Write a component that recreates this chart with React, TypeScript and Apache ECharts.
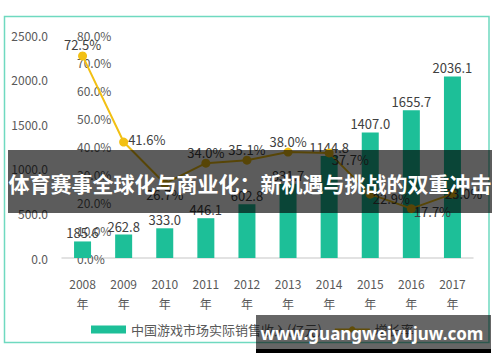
import React, { useEffect, useRef } from "react";
import * as echarts from "echarts";

const categories = ["2008\n年", "2009\n年", "2010\n年", "2011\n年", "2012\n年", "2013\n年", "2014\n年", "2015\n年", "2016\n年", "2017\n年"];
const revenue = [185.6, 262.8, 333.0, 446.1, 602.8, 831.7, 1144.8, 1407.0, 1655.7, 2036.1];
const growth = [72.5, 41.6, 26.7, 34.0, 35.1, 38.0, 37.7, 22.9, 17.7, 23.0];
const growthLabelPos = ["top", "right", "bottom", "top", "top", "top", "right", "right", "right", "right"];
const growthLabelOffset = [[0, 0], [0, -3], [0, 0], [0, 0], [0, 0], [0, 0], [-2, 7], [-2, 4], [-2, 3], [-12, 0]];
const barName = "中国游戏市场实际销售收入(亿元)";
const lineName = "增长率";
const bannerText = "体育赛事全球化与商业化：新机遇与挑战的双重冲击";
const watermarkText = "www.guangweiyujuw.com";

const FONT = "'Noto Sans CJK SC', 'Noto Sans', sans-serif";

export default function App() {
  const ref = useRef<HTMLDivElement>(null);
  useEffect(() => {
    if (!ref.current) return;
    const chart = echarts.init(ref.current, undefined, { renderer: "svg" });
    chart.setOption({
      animation: false,
      backgroundColor: "#ffffff",
      textStyle: { fontFamily: FONT },
      grid: { left: 62, right: 27, top: 35, bottom: 104 },
      legend: {
        left: 86,
        top: 318,
        itemWidth: 35,
        itemHeight: 8,
        itemGap: 12,
        textStyle: { fontSize: 13, color: "#595959", fontFamily: FONT },
        data: [
          { name: barName, icon: "rect" },
          { name: lineName },
        ],
      },
      xAxis: {
        type: "category",
        data: categories,
        axisLine: { lineStyle: { color: "#d9d9d9", width: 1.5 } },
        axisTick: { show: false },
        axisLabel: { color: "#595959", fontSize: 12, lineHeight: 20, margin: 15, interval: 0 },
      },
      yAxis: [
        {
          type: "value",
          min: 0,
          max: 2500,
          interval: 500,
          axisLine: { show: false },
          axisTick: { show: false },
          splitLine: { show: false },
          axisLabel: { color: "#595959", fontSize: 12, margin: 14, formatter: (v: number) => v.toFixed(1) },
        },
        {
          type: "value",
          position: "left",
          min: 0,
          max: 80,
          interval: 10,
          axisLine: { show: false },
          axisTick: { show: false },
          splitLine: { show: false },
          axisLabel: { inside: true, color: "#595959", fontSize: 12, margin: 15, formatter: (v: number) => v.toFixed(1) + "%" },
        },
      ],
      series: [
        {
          name: barName,
          type: "bar",
          data: revenue,
          barWidth: 17,
          itemStyle: { color: "#1dbf98" },
          label: {
            show: true,
            position: "top",
            distance: 2,
            color: "#404040",
            fontSize: 13,
            formatter: (p: any) => Number(p.value).toFixed(1),
          },
          z: 2,
        },
        {
          name: lineName,
          type: "line",
          yAxisIndex: 1,
          data: growth.map((v, i) => ({
            value: v,
            label: { position: growthLabelPos[i], offset: growthLabelOffset[i] },
          })),
          symbol: "circle",
          symbolSize: 9,
          lineStyle: { color: "#f2c014", width: 2 },
          itemStyle: { color: "#f2c014" },
          label: {
            show: true,
            distance: 0,
            color: "#404040",
            fontSize: 13,
            formatter: (p: any) => Number(p.value).toFixed(1) + "%",
          },
          z: 3,
        },
      ],
      graphic: [
        {
          type: "rect",
          z: 50,
          shape: { x: 4.5, y: 16.5, width: 484.5, height: 326 },
          style: { fill: "none", stroke: "#6fd9c0", lineWidth: 1.5 },
          silent: true,
        },
        {
          type: "rect",
          z: 100,
          shape: { x: 8, y: 150, width: 484, height: 63 },
          style: { fill: "rgba(0,0,0,0.64)" },
          silent: true,
        },
        {
          type: "text",
          z: 101,
          x: 250,
          y: 183,
          style: {
            text: bannerText,
            fill: "#ffffff",
            font: "bold 21px 'Noto Sans CJK SC', sans-serif",
            align: "center",
            verticalAlign: "middle",
          },
          silent: true,
        },
        {
          type: "rect",
          z: 100,
          shape: { x: 256, y: 315, width: 235, height: 34 },
          style: { fill: "rgba(0,0,0,0.6)" },
          silent: true,
        },
        {
          type: "rect",
          z: 100,
          shape: { x: 256, y: 349, width: 235, height: 4 },
          style: { fill: "#000000" },
          silent: true,
        },
        {
          type: "text",
          z: 101,
          x: 372,
          y: 333,
          style: {
            text: watermarkText,
            fill: "#ffffff",
            font: "bold 17px 'Noto Sans', sans-serif",
            align: "center",
            verticalAlign: "middle",
          },
          silent: true,
        },
      ],
    });
    return () => chart.dispose();
  }, []);
  return <div ref={ref} style={{ width: 500, height: 362, position: "absolute", left: 0, top: 0 }} />;
}
